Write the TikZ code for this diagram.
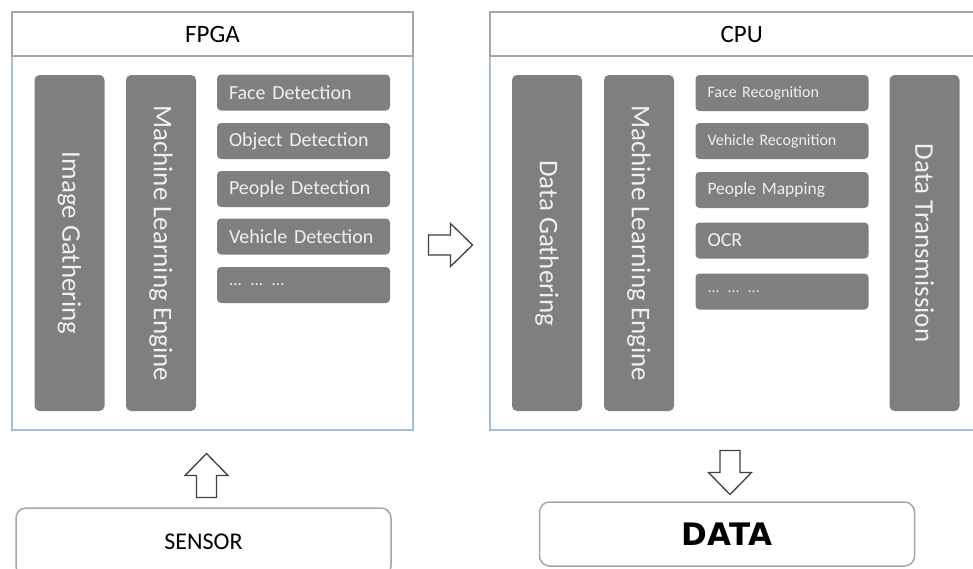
\documentclass[tikz,border=0pt]{standalone}
\usepackage{fontspec}
\setmainfont{Carlito}
\newfontfamily\datafont{DejaVu Sans}
\usepackage{tikz}
\usetikzlibrary{positioning}
\definecolor{blockgray}{HTML}{7F7F7F}
\definecolor{framegray}{HTML}{A6A6A6}
\definecolor{frameblue}{HTML}{A3BDDA}
\definecolor{labelgray}{HTML}{F0F0F0}
\definecolor{arrowline}{HTML}{404040}
\newcommand{\boxcolor}{blockgray}
\newcommand{\framewidth}{1.5pt}
\newcommand{\fs}[1]{\fontsize{#1}{#1}\selectfont}

\begin{document}
\begin{tikzpicture}[x=1pt, y=-1pt,
  title/.style={draw=framegray, line width=\framewidth, fill=white, minimum height=44pt, inner sep=0pt, font=\fs{25}},
  body/.style={draw=frameblue, line width=\framewidth, minimum height=374pt, inner sep=0pt},
  column/.style={fill=\boxcolor, rounded corners=5pt, rotate=-90, minimum width=336pt, minimum height=70pt, inner sep=0pt, text=labelgray, font=\fs{27}},
  task/.style={fill=\boxcolor, rounded corners=4pt, minimum height=36pt, text width=149pt, inner xsep=12pt, inner ysep=0pt, align=left, text=labelgray},
  endbox/.style={draw=framegray, line width=\framewidth, rounded corners=10pt, minimum width=375pt, inner sep=0pt},
  blockarrow/.pic={\draw[arrowline, line width=1.3pt, fill=white, line join=miter]
    (-22,-10) -- (0,-10) -- (0,-21.5) -- (22,0) -- (0,21.5) -- (0,10) -- (-22,10) -- cycle;}]
\useasboundingbox (0,0) rectangle (973,568);
\clip (0,0) rectangle (973,568);
%FPGA
\node[body, minimum width=401pt] (1) at (212.5,243) {};
\node[title, minimum width=401pt] (2) at (212.5,34) {FPGA};
\node[column] (3) at (69.5,243) {Image Gathering};
\node[column] (4) at (161,243) {Machine Learning Engine};
\node[task, font=\fs{20}] (5) at (303.5,92.5) {Face Detection};
\node[task, font=\fs{20}] (6) at (303.5,141) {Object Detection};
\node[task, font=\fs{20}] (7) at (303.5,189) {People Detection};
\node[task, font=\fs{20}] (8) at (303.5,236.5) {Vehicle Detection};
\node[task, font=\fs{17}] (9) at (303.5,285) {... ... ...};
%CPU
\node[body, minimum width=500pt] (10) at (740,243) {};
\node[title, minimum width=500pt, text width=483pt, align=left] (11) at (740,34) {\hspace*{222pt}CPU};
\node[column] (12) at (547,243) {Data Gathering};
\node[column] (13) at (639,243) {Machine Learning Engine};
\node[column] (14) at (924.5,243) {Data Transmission};
\node[task, font=\fs{16}] (15) at (782,93) {Face Recognition};
\node[task, font=\fs{16}] (16) at (782,141) {Vehicle Recognition};
\node[task, font=\fs{17.5}] (17) at (782,190) {People Mapping};
\node[task, font=\fs{20}] (18) at (782,240.5) {OCR};
\node[task, font=\fs{16}] (19) at (782,291.5) {... ... ...};
%in and out
\node[endbox, minimum height=68pt, font=\fs{24}] (20) at (203.5,542) {SENSOR};
\node[endbox, minimum height=64pt, font=\datafont\bfseries\fs{31}] (21) at (727,534) {DATA};
%arrows
\coordinate (a1) at (450.5,245);
\coordinate (a2) at (206.5,475.5);
\coordinate (a3) at (730,472.5);
\pic at (a1) {blockarrow};
\pic[rotate=90] at (a2) {blockarrow};
\pic[rotate=-90] at (a3) {blockarrow};
\end{tikzpicture}
\end{document}
